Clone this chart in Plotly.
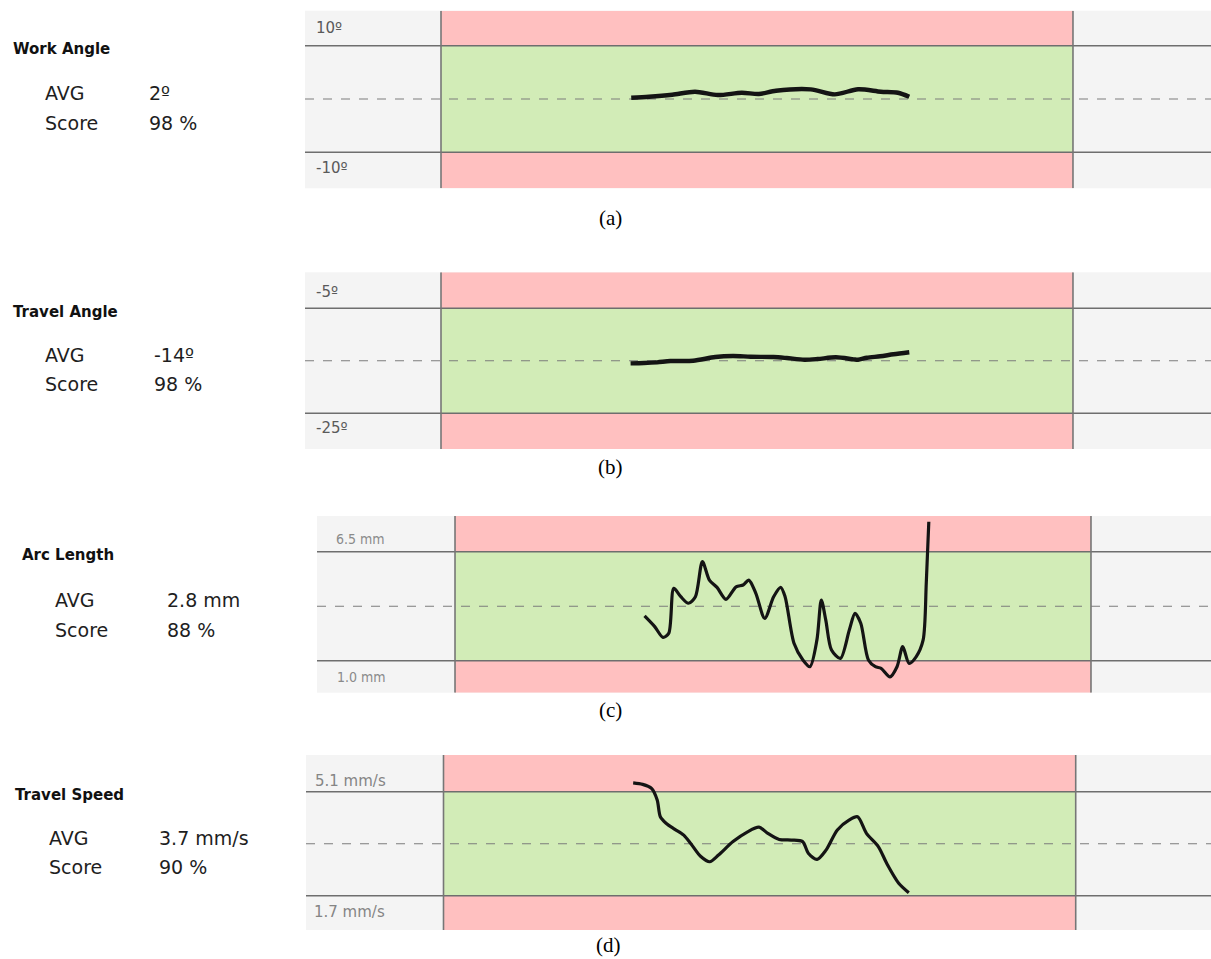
import plotly.graph_objects as go

W, H = 1211, 959

# ---------------- data ----------------
# (a) Work Angle (degrees) vs weld progress (0-100 %)
wa_t = [30.1, 32.9, 36.6, 40.2, 43.8, 47.6, 50.3, 53.0, 58.5, 62.3, 66.0, 69.6, 72.3, 74.1]
wa_v = [0.24, 0.43, 0.81, 1.37, 0.75, 1.18, 0.94, 1.56, 1.82, 0.88, 1.82, 1.37, 1.18, 0.43]

# (b) Travel Angle (degrees)
ta_t = [30.0, 32.1, 34.2, 36.3, 39.9, 43.4, 46.2, 49.0, 52.6, 54.7, 57.5, 59.6, 62.5, 65.3, 66.0, 67.4, 69.5, 71.6, 74.1]
ta_v = [-15.48, -15.42, -15.29, -15.04, -14.98, -14.28, -14.09, -14.22, -14.28, -14.47, -14.79, -14.66,
        -14.33, -14.72, -14.79, -14.41, -14.14, -13.76, -13.38]

# (c) Arc Length (mm)
al_t = [29.8, 31.4, 32.7, 33.6, 34.4, 35.5, 36.7, 37.8, 38.9, 40.0, 41.2, 42.6, 44.2, 45.3, 46.2, 47.3,
        48.7, 50.1, 51.2, 51.9, 53.3, 54.7, 55.8, 56.9, 57.6, 58.3, 59.2, 60.6, 62.0, 62.9, 63.8, 65.0,
        66.1, 67.0, 68.4, 69.5, 70.4, 71.4, 72.5, 73.6, 74.1, 74.5]
al_v = [3.26, 2.72, 2.18, 2.38, 4.65, 4.23, 3.90, 4.23, 6.00, 5.07, 4.70, 4.10, 4.73, 4.82, 5.07, 4.40,
        3.14, 4.23, 4.70, 4.23, 1.88, 1.04, 0.70, 2.04, 4.06, 3.05, 1.54, 1.12, 2.55, 3.39, 2.89, 1.04,
        0.70, 0.62, 0.19, 0.70, 1.71, 0.87, 1.20, 2.04, 4.91, 8.01]

# (d) Travel Speed (mm/s)
ts_t = [30.0, 31.5, 32.9, 33.8, 34.3, 35.2, 36.6, 38.0, 39.1, 40.7, 42.1, 43.5, 45.8, 48.1, 49.9, 51.3,
        53.1, 55.0, 56.8, 57.7, 59.1, 60.5, 62.3, 64.2, 65.5, 66.9, 68.8, 70.1, 72.0, 73.6]
ts_v = [5.39, 5.34, 5.21, 4.83, 4.28, 4.07, 3.87, 3.68, 3.41, 2.98, 2.81, 3.03, 3.47, 3.79, 3.94, 3.74,
        3.54, 3.52, 3.47, 3.09, 2.89, 3.19, 3.85, 4.18, 4.28, 3.74, 3.30, 2.76, 2.11, 1.80]

titles = ["Work Angle", "Travel Angle", "Arc Length", "Travel Speed"]
avg_labels = ["2º", "-14º", "2.8 mm", "3.7 mm/s"]
score_labels = ["98 %", "98 %", "88 %", "90 %"]
upper_limits = [10, -5, 6.5, 5.1]
lower_limits = [-10, -25, 1.0, 1.7]
upper_tick_labels = ["10º", "-5º", "6.5 mm", "5.1 mm/s"]
lower_tick_labels = ["-10º", "-25º", "1.0 mm", "1.7 mm/s"]
captions = ["(a)", "(b)", "(c)", "(d)"]

series_t = [wa_t, ta_t, al_t, ts_t]
series_v = [wa_v, ta_v, al_v, ts_v]

# ---------------- layout geometry (pixels) ----------------
panels = [
    dict(x0=305, x1=1211, yt=10.7, yb=188.3, xr=[-21.52, 121.84], yr=[-16.75, 16.57]),
    dict(x0=305, x1=1211, yt=272.3, yb=449.0, xr=[-21.52, 121.84], yr=[-31.80, 1.86]),
    dict(x0=317, x1=1211, yt=516.0, yb=692.7, xr=[-21.70, 118.87], yr=[-0.61, 8.30]),
    dict(x0=306, x1=1211, yt=755.0, yb=930.0, xr=[-21.75, 121.40], yr=[0.58, 6.30]),
]
text_pos = [
    dict(title=(11, 49), avg=(43, 93), val=(147, 93), score=(43, 123)),
    dict(title=(11, 312), avg=(43, 355), val=(152, 355), score=(43, 384)),
    dict(title=(20, 555), avg=(53, 600), val=(165, 600), score=(53, 630)),
    dict(title=(13, 795), avg=(47, 838), val=(157, 838), score=(47, 867)),
]
tick_pos = [((314, 28), (314, 168)), ((314, 292), (314, 428)),
            ((334, 539), (335, 677)), ((313, 781), (312, 912))]
caption_pos = [(610, 218), (610, 467), (610, 710), (608, 945)]


def PX(x):
    return x / W


def PY(y):
    return 1 - y / H


RED = "#ffc0c0"
GREEN = "#d2ecb7"
LINEC = "#6e6e6e"

fig = go.Figure()
shapes = []
annotations = []

for i, p in enumerate(panels):
    n = "" if i == 0 else str(i + 1)
    xa, ya = "x" + n, "y" + n
    fig.add_trace(go.Scatter(
        x=series_t[i], y=series_v[i], mode="lines",
        line=dict(color="#141414", width=4.4 if i < 2 else 3.2, shape="spline", smoothing=0.8),
        xaxis=xa, yaxis=ya, showlegend=False, hoverinfo="skip"))
    fig.update_layout(**{
        ("xaxis" + n): dict(domain=[PX(p["x0"]), PX(p["x1"])], range=p["xr"], visible=False,
                            anchor=ya, fixedrange=True),
        ("yaxis" + n): dict(domain=[PY(p["yb"]), PY(p["yt"])], range=p["yr"], visible=False,
                            anchor=xa, fixedrange=True),
    })
    lo, hi = lower_limits[i], upper_limits[i]
    mid = (lo + hi) / 2
    xr, yr = p["xr"], p["yr"]
    # red full band then green band
    shapes.append(dict(type="rect", xref=xa, yref=ya, x0=0, x1=100, y0=yr[0], y1=yr[1],
                       fillcolor=RED, line_width=0, layer="below"))
    shapes.append(dict(type="rect", xref=xa, yref=ya, x0=0, x1=100, y0=lo, y1=hi,
                       fillcolor=GREEN, line_width=0, layer="below"))
    # dashed target line
    shapes.append(dict(type="line", xref=xa, yref=ya, x0=xr[0], x1=xr[1], y0=mid, y1=mid,
                       line=dict(color="#7c7c7c", width=1.1, dash="dash"), layer="below"))
    # boundary lines
    for yv in (lo, hi):
        shapes.append(dict(type="line", xref=xa, yref=ya, x0=xr[0], x1=xr[1], y0=yv, y1=yv,
                           line=dict(color=LINEC, width=1.6), layer="below"))
    for xv in (0, 100):
        shapes.append(dict(type="line", xref=xa, yref=ya, x0=xv, x1=xv, y0=yr[0], y1=yr[1],
                           line=dict(color="#767676", width=1.6), layer="below"))

    # left texts
    tp = text_pos[i]
    annotations.append(dict(text="<b>" + titles[i] + "</b>", x=PX(tp["title"][0]), y=PY(tp["title"][1]),
                            xref="paper", yref="paper", xanchor="left", yanchor="middle", showarrow=False,
                            font=dict(family="DejaVu Sans", size=15, color="#111111")))
    for label, key in (("AVG", "avg"), ("Score", "score")):
        annotations.append(dict(text=label, x=PX(tp[key][0]), y=PY(tp[key][1]),
                                xref="paper", yref="paper", xanchor="left", yanchor="middle",
                                showarrow=False, font=dict(family="DejaVu Sans", size=19, color="#1e1e1e")))
    annotations.append(dict(text=avg_labels[i], x=PX(tp["val"][0]), y=PY(tp["avg"][1]),
                            xref="paper", yref="paper", xanchor="left", yanchor="middle",
                            showarrow=False, font=dict(family="DejaVu Sans", size=19, color="#1e1e1e")))
    annotations.append(dict(text=score_labels[i], x=PX(tp["val"][0]), y=PY(tp["score"][1]),
                            xref="paper", yref="paper", xanchor="left", yanchor="middle",
                            showarrow=False, font=dict(family="DejaVu Sans", size=19, color="#1e1e1e")))
    # limit labels
    if i < 2:
        lf = dict(family="DejaVu Sans", size=15, color="#5a5a5a")
    elif i == 2:
        lf = dict(family="DejaVu Sans Condensed", size=14, color="#8a8a8a")
    else:
        lf = dict(family="DejaVu Sans", size=15, color="#858585")
    for lbl, pos in zip((upper_tick_labels[i], lower_tick_labels[i]), tick_pos[i]):
        annotations.append(dict(text=lbl, x=PX(pos[0]), y=PY(pos[1]), xref="paper", yref="paper",
                                xanchor="left", yanchor="middle", showarrow=False, font=lf))
    # caption
    annotations.append(dict(text=captions[i], x=PX(caption_pos[i][0]), y=PY(caption_pos[i][1]),
                            xref="paper", yref="paper", xanchor="center", yanchor="middle",
                            showarrow=False, font=dict(family="Liberation Serif", size=21, color="#000000")))

fig.update_layout(
    width=W, height=H, margin=dict(l=0, r=0, t=0, b=0),
    paper_bgcolor="white", plot_bgcolor="#f4f4f4",
    shapes=shapes, annotations=annotations, showlegend=False,
)

fig.write_html("out.html", config={"displayModeBar": False},
               post_script="document.body.style.margin='0';document.body.style.overflow='hidden';")
